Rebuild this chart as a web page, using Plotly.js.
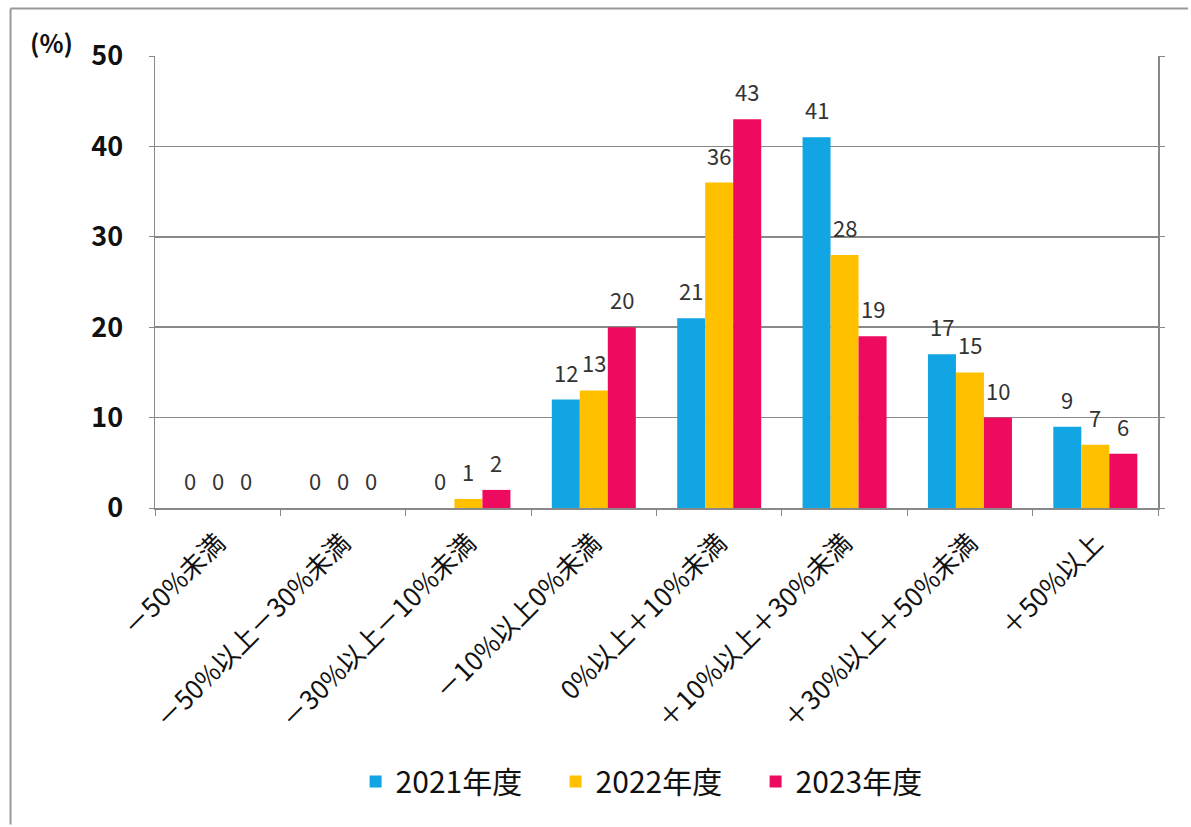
<!DOCTYPE html>
<html>
<head>
<meta charset="utf-8">
<script src="https://cdn.plot.ly/plotly-3.0.1.min.js"></script>
<style>html,body{margin:0;padding:0;background:#fff;}#chart{width:1191px;height:827px;}</style>
</head>
<body>
<div id="chart"></div>
<script>
const categories = ["－50%未満", "－50%以上－30%未満", "－30%以上－10%未満", "－10%以上0%未満", "0%以上＋10%未満", "＋10%以上＋30%未満", "＋30%以上＋50%未満", "＋50%以上"];
const seriesNames = ["2021年度", "2022年度", "2023年度"];
const values2021 = [0, 0, 0, 12, 21, 41, 17, 9];
const values2022 = [0, 0, 1, 13, 36, 28, 15, 7];
const values2023 = [0, 0, 2, 20, 43, 19, 10, 6];
const yTicks = [0, 10, 20, 30, 40, 50];

const colors = ["#12A5E3", "#FFC000", "#EE0A5E"];
const FONT = "'Noto Sans CJK JP', 'Noto Sans', sans-serif";
const allValues = [values2021, values2022, values2023];
const BARGAP = 0.33;
const barW = (1 - BARGAP) / allValues.length;

const traces = allValues.map((vals, i) => ({
  type: 'bar',
  name: seriesNames[i],
  x: categories,
  y: vals,
  marker: {color: colors[i], line: {width: 0}},
  cliponaxis: false,
  hoverinfo: 'x+y'
}));

// data labels placed above each bar
const labelAnnotations = [];
allValues.forEach((vals, i) => {
  vals.forEach((v, j) => {
    labelAnnotations.push({
      x: j + (i - (allValues.length - 1) / 2) * barW, y: v,
      xref: 'x', yref: 'y', text: String(v), showarrow: false,
      yanchor: 'bottom', yshift: 10,
      font: {family: FONT, size: 22, color: '#333'}
    });
  });
});

const layout = {
  width: 1191, height: 827,
  paper_bgcolor: '#fff', plot_bgcolor: '#fff',
  margin: {l: 155, r: 33, t: 56, b: 319},
  barmode: 'group', bargap: BARGAP, bargroupgap: 0,
  font: {family: FONT, color: '#111'},
  showlegend: true,
  legend: {orientation: 'h', x: 0.2, xanchor: 'left', y: -0.605, yanchor: 'middle',
           font: {family: FONT, size: 30, color: '#111'}, itemwidth: 30, entrywidth: 155,
           traceorder: 'normal'},
  xaxis: {
    type: 'category', tickangle: -45, tickson: 'boundaries', ticks: 'outside', ticklen: 6,
    tickcolor: '#888', showline: true, linecolor: '#888', linewidth: 1.5,
    tickfont: {family: FONT, size: 26, color: '#111'}, showgrid: false,
    ticklabelstandoff: 8
  },
  yaxis: {
    range: [0, 50], tickvals: yTicks, ticktext: yTicks.map(String),
    showgrid: true, gridcolor: '#888', gridwidth: 1.5,
    showline: true, linecolor: '#888', linewidth: 1.5, mirror: 'ticks',
    ticks: 'outside', ticklen: 5, tickcolor: '#888',
    tickfont: {family: FONT, size: 27, color: '#111', weight: 'bold'},
    ticklabelstandoff: 20, zeroline: false
  },
  annotations: [{
    text: '<b>(%)</b>', xref: 'paper', yref: 'paper', x: -0.127, y: 1.031,
    xanchor: 'left', yanchor: 'middle', showarrow: false,
    font: {family: FONT, size: 25, color: '#111'}
  }].concat(labelAnnotations),
  shapes: [
    {type: 'line', xref: 'paper', yref: 'paper', x0: -0.144, x1: 1.03, y0: 1.105, y1: 1.105, line: {color: '#999', width: 2}},
    {type: 'line', xref: 'paper', yref: 'paper', x0: -0.144, x1: -0.144, y0: 1.105, y1: -0.7, line: {color: '#999', width: 2}}
  ]
};

Plotly.newPlot('chart', traces, layout, {displayModeBar: false, staticPlot: true});
</script>
</body>
</html>
